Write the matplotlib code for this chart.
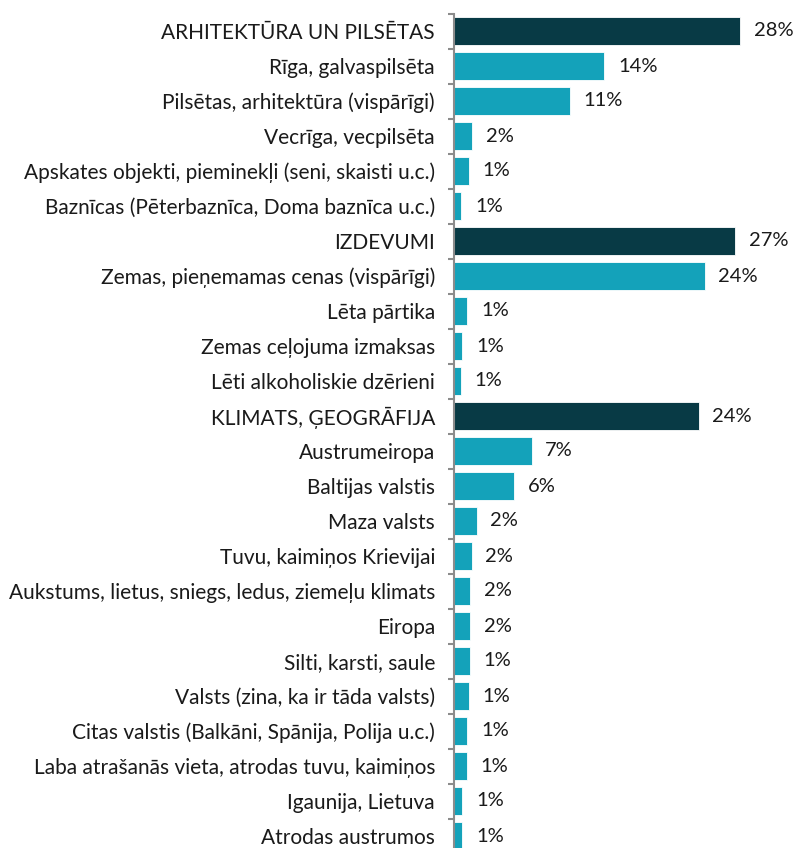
import matplotlib.pyplot as plt

# Dati
kategorijas = [
    "ARHITEKTŪRA UN PILSĒTAS",
    "Rīga, galvaspilsēta",
    "Pilsētas, arhitektūra (vispārīgi)",
    "Vecrīga, vecpilsēta",
    "Apskates objekti, pieminekļi (seni, skaisti u.c.)",
    "Baznīcas (Pēterbaznīca, Doma baznīca u.c.)",
    "IZDEVUMI",
    "Zemas, pieņemamas cenas (vispārīgi)",
    "Lēta pārtika",
    "Zemas ceļojuma izmaksas",
    "Lēti alkoholiskie dzērieni",
    "KLIMATS, ĢEOGRĀFIJA",
    "Austrumeiropa",
    "Baltijas valstis",
    "Maza valsts",
    "Tuvu, kaimiņos Krievijai",
    "Aukstums, lietus, sniegs, ledus, ziemeļu klimats",
    "Eiropa",
    "Silti, karsti, saule",
    "Valsts (zina, ka ir tāda valsts)",
    "Citas valstis (Balkāni, Spānija, Polija u.c.)",
    "Laba atrašanās vieta, atrodas tuvu, kaimiņos",
    "Igaunija, Lietuva",
    "Atrodas austrumos",
]
vertibas = [27.55, 14.45, 11.08, 1.73, 1.35, 0.67,
            27.07, 24.13, 1.25, 0.77, 0.58,
            23.55, 7.42, 5.78, 2.12, 1.64, 1.54, 1.54, 1.45, 1.40,
            1.25, 1.16, 0.77, 0.77]
etiketes = ["28%", "14%", "11%", "2%", "1%", "1%",
            "27%", "24%", "1%", "1%", "1%",
            "24%", "7%", "6%", "2%", "2%", "2%", "2%", "1%", "1%",
            "1%", "1%", "1%", "1%"]
virsraksti = {0, 6, 11}

tumsa = "#083a45"
gaisa = "#14a2ba"
krasas = [tumsa if i in virsraksti else gaisa for i in range(len(kategorijas))]

plt.rcParams['font.family'] = ['Lato', 'DejaVu Sans']

fig = plt.figure(figsize=(7.96, 8.48), dpi=100)
ax = fig.add_axes([454.5 / 796, -5.5 / 848, 341.5 / 796, 840 / 848])

y = list(range(len(kategorijas)))
ax.barh(y, vertibas, height=0.8, color=krasas, edgecolor="white", linewidth=0.6)

for yi, v, t in zip(y, vertibas, etiketes):
    ax.text(v + 1.3, yi, t, va="center", ha="left", fontsize=14.5, color="#1a1a1a")

ax.set_ylim(23.5, -0.5)
ax.set_xlim(0, 341.5 / 10.38)

ax.set_yticks(y)
ax.set_yticklabels(kategorijas, fontsize=15, color="#1a1a1a")
ax.tick_params(axis="y", which="major", length=0, pad=14)
ax.set_yticks([i + 0.5 for i in range(-1, len(kategorijas))], minor=True)
ax.tick_params(axis="y", which="minor", length=4, width=1.5, color="#8c8c8c", direction="out")
ax.set_xticks([])

for s in ["top", "right", "bottom"]:
    ax.spines[s].set_visible(False)
ax.spines["left"].set_color("#8c8c8c")
ax.spines["left"].set_linewidth(1.5)

fig.savefig("out.png", dpi=100)
